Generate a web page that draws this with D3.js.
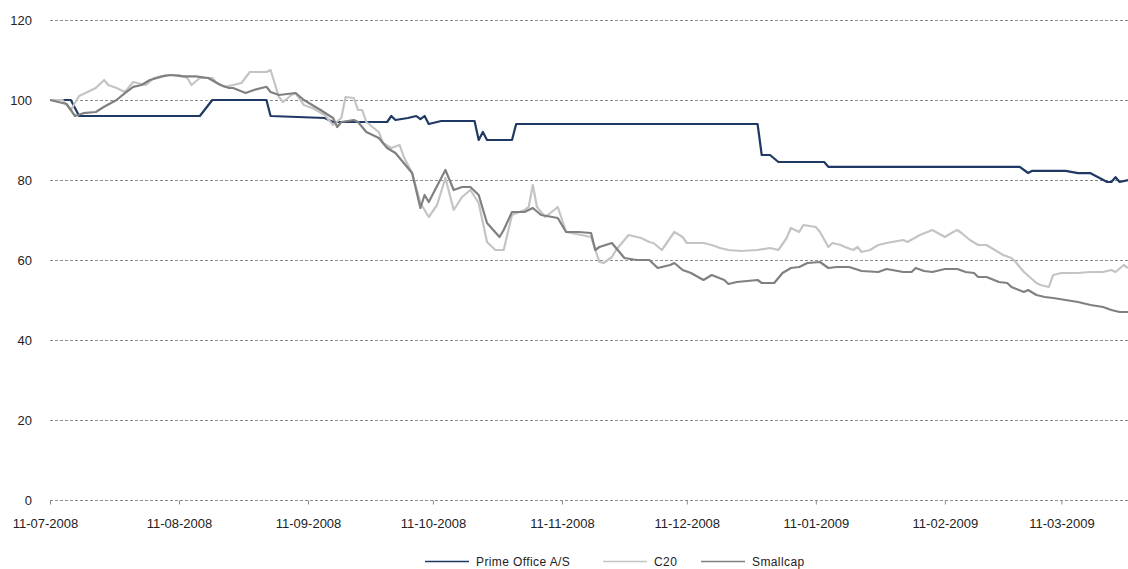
<!DOCTYPE html>
<html>
<head>
  <meta charset="utf-8">
  <title>Prime Office A/S vs C20 og Smallcap</title>
  <style>
    body{ margin:0; background:#fff; }
    .axis text{ font-family:"Liberation Sans", Arial, sans-serif; font-size:13px; fill:#222; }
    .legend text{ font-family:"Liberation Sans", Arial, sans-serif; font-size:12px; fill:#222; letter-spacing:0.4px; }
  </style>
  <script src="https://d3js.org/d3.v7.min.js"></script>
</head>
<body>
<script>
  // indekseret kurs, 11-07-2008 = 100
  var primeDates = ['2008-07-11','2008-07-16','2008-07-18','2008-08-16','2008-08-19','2008-09-01','2008-09-02',
    '2008-09-15','2008-09-17','2008-09-30','2008-10-01','2008-10-02','2008-10-05','2008-10-07','2008-10-08',
    '2008-10-09','2008-10-10','2008-10-13','2008-10-21','2008-10-22','2008-10-23','2008-10-24','2008-10-30',
    '2008-10-31','2008-12-28','2008-12-29','2008-12-31','2009-01-02','2009-01-13','2009-01-14','2009-03-01',
    '2009-03-03','2009-03-04','2009-03-12','2009-03-15','2009-03-18','2009-03-22','2009-03-23','2009-03-24',
    '2009-03-25','2009-03-27'];
  var primeValues = [100,100,96,96,100,100,96,
    95.5,94.5,94.5,96,95,95.5,96,95.2,
    96,94,94.75,94.75,90,92,90,90,
    94,94,86.25,86.25,84.5,84.5,83.3,83.3,
    81.75,82.3,82.3,81.7,81.7,79.5,79.5,80.7,
    79.5,80];

  var c20Dates = ['2008-07-11','2008-07-14','2008-07-16','2008-07-18','2008-07-20','2008-07-22','2008-07-24',
    '2008-07-25','2008-07-27','2008-07-29','2008-07-31','2008-08-03','2008-08-05','2008-08-08','2008-08-11',
    '2008-08-13','2008-08-14','2008-08-16','2008-08-19','2008-08-20','2008-08-22','2008-08-26','2008-08-28',
    '2008-09-01','2008-09-02','2008-09-04','2008-09-05','2008-09-07','2008-09-08','2008-09-10','2008-09-12',
    '2008-09-15','2008-09-17','2008-09-19','2008-09-20','2008-09-22','2008-09-23','2008-09-24','2008-09-25',
    '2008-09-28','2008-09-29','2008-10-01','2008-10-03','2008-10-04','2008-10-06','2008-10-08','2008-10-10',
    '2008-10-12','2008-10-14','2008-10-16','2008-10-18','2008-10-20','2008-10-22','2008-10-24','2008-10-26',
    '2008-10-28','2008-10-30','2008-11-02','2008-11-03','2008-11-04','2008-11-05','2008-11-07','2008-11-10',
    '2008-11-12','2008-11-18','2008-11-20','2008-11-21','2008-11-23','2008-11-24','2008-11-26','2008-11-27',
    '2008-11-30','2008-12-02','2008-12-03','2008-12-05','2008-12-08','2008-12-10','2008-12-11','2008-12-15',
    '2008-12-17','2008-12-19','2008-12-21','2008-12-24','2008-12-28','2008-12-31','2009-01-02','2009-01-04',
    '2009-01-05','2009-01-07','2009-01-08','2009-01-11','2009-01-12','2009-01-14','2009-01-15','2009-01-17',
    '2009-01-18','2009-01-20','2009-01-21','2009-01-22','2009-01-24','2009-01-26','2009-01-28','2009-02-01',
    '2009-02-02','2009-02-05','2009-02-08','2009-02-11','2009-02-13','2009-02-14','2009-02-15','2009-02-17',
    '2009-02-19','2009-02-21','2009-02-23','2009-02-25','2009-02-27','2009-02-28','2009-03-02','2009-03-05',
    '2009-03-06','2009-03-08','2009-03-09','2009-03-11','2009-03-15','2009-03-18','2009-03-21','2009-03-23',
    '2009-03-24','2009-03-26','2009-03-27'];
  var c20Values = [100,100,97.5,101,102,103,105,
    103.75,103,102,104.5,103.75,105.5,106.25,106.25,
    105.5,103.75,105.5,105.5,104.25,103.25,104.25,107,
    107,107.5,100.75,99.5,101.25,101.75,98.75,98,
    96.25,93.75,95.5,100.75,100.5,97.5,97.5,94.5,
    92,89.25,88,88.75,85.75,81.75,74.25,70.75,
    73.75,80.5,72.5,75.75,77.5,74.25,64.5,62.5,
    62.5,71.25,72.5,73.25,78.75,73.25,70.75,73.25,
    67,65.75,59.5,59.25,60.75,62.5,65,66.25,
    65.5,64.5,64.25,62.5,67,65.75,64.25,64.25,
    63.75,63,62.5,62.25,62.5,63,62.5,65.5,
    68,67,68.75,68.25,67,63.25,64.25,63.75,
    63.25,62.5,63.25,62,62.5,63.75,64.25,65,
    64.5,66.25,67.5,65.75,67,67.5,66.75,65,
    63.75,63.75,62.5,61.25,60.5,59.5,57,54.25,
    53.75,53.25,56.25,56.75,56.75,57,57,57.5,
    57,58.75,58];

  var smallDates = ['2008-07-11','2008-07-15','2008-07-17','2008-07-19','2008-07-22','2008-07-24','2008-07-27',
    '2008-07-29','2008-07-31','2008-08-02','2008-08-04','2008-08-07','2008-08-09','2008-08-12','2008-08-15',
    '2008-08-18','2008-08-21','2008-08-23','2008-08-24','2008-08-27','2008-08-29','2008-09-01','2008-09-02',
    '2008-09-04','2008-09-08','2008-09-10','2008-09-12','2008-09-14','2008-09-17','2008-09-18','2008-09-19',
    '2008-09-22','2008-09-23','2008-09-25','2008-09-28','2008-09-30','2008-10-02','2008-10-04','2008-10-06',
    '2008-10-08','2008-10-09','2008-10-10','2008-10-14','2008-10-16','2008-10-18','2008-10-20','2008-10-22',
    '2008-10-24','2008-10-27','2008-10-28','2008-10-30','2008-11-02','2008-11-04','2008-11-06','2008-11-10',
    '2008-11-12','2008-11-15','2008-11-18','2008-11-19','2008-11-20','2008-11-23','2008-11-25','2008-11-26',
    '2008-11-29','2008-12-02','2008-12-04','2008-12-07','2008-12-08','2008-12-10','2008-12-12','2008-12-15',
    '2008-12-17','2008-12-20','2008-12-21','2008-12-23','2008-12-28','2008-12-29','2009-01-01','2009-01-03',
    '2009-01-05','2009-01-07','2009-01-09','2009-01-12','2009-01-13','2009-01-14','2009-01-16','2009-01-19',
    '2009-01-22','2009-01-26','2009-01-28','2009-02-01','2009-02-03','2009-02-04','2009-02-06','2009-02-08',
    '2009-02-11','2009-02-14','2009-02-16','2009-02-18','2009-02-19','2009-02-21','2009-02-24','2009-02-26',
    '2009-02-27','2009-03-02','2009-03-03','2009-03-05','2009-03-07','2009-03-09','2009-03-12','2009-03-15',
    '2009-03-18','2009-03-21','2009-03-23','2009-03-25','2009-03-27'];
  var smallValues = [100,99,96,96.7,97,98.3,100,
    101.7,103.3,103.75,105,105.9,106.25,105.9,105.9,
    105.5,103.75,103,103,101.75,102.5,103.3,102,
    101.25,101.75,100,98.75,97.5,95.5,93.25,94.5,
    95,94.5,92,90.5,88,86.75,84.25,81.75,
    73,76.25,74.5,82.5,77.5,78.25,78.25,76.25,
    69.25,65.75,67.5,72,72,73,71.25,70.5,
    67,67,66.75,62.5,63.25,64.25,61.75,60.5,
    60,60,58,58.75,59.25,57.5,56.75,55,
    56.25,55,54,54.5,55,54.25,54.25,56.75,
    58,58.25,59.25,59.5,58.75,58,58.25,58.25,
    57.25,57,57.75,57,57,58,57.25,57,
    57.75,57.75,57,56.75,55.75,55.75,54.5,54.25,
    53.25,52,52.5,51.25,50.75,50.5,50,49.5,
    48.75,48.25,47.5,47,47];

  var seriesNames = ['Prime Office A/S','C20','Smallcap'];
  var seriesColors = ['#1f3864','#c4c4c4','#808080'];
  var yTicks = [0,20,40,60,80,100,120];
  var xTicks = ['2008-07-11','2008-08-11','2008-09-11','2008-10-11','2008-11-11','2008-12-11','2009-01-11','2009-02-11','2009-03-11'];

  var parse = d3.timeParse('%Y-%m-%d');
  var fmt = d3.timeFormat('%d-%m-%Y');

  function toPoints(dates, values){
    return dates.map(function(d,i){ return {date:parse(d), value:values[i]}; });
  }
  var series = [
    toPoints(primeDates, primeValues),
    toPoints(c20Dates, c20Values),
    toPoints(smallDates, smallValues)
  ];

  var width = 1128, height = 569;
  var margin = {top:20, right:0, bottom:69, left:50};

  var svg = d3.select('body').append('svg')
    .attr('width', width)
    .attr('height', height);

  var x = d3.scaleTime()
    .domain([parse(primeDates[0]), parse(primeDates[primeDates.length-1])])
    .range([margin.left, width - margin.right]);
  var y = d3.scaleLinear()
    .domain([0,120])
    .range([height - margin.bottom, margin.top]);

  // vandrette gitterlinjer
  svg.append('g')
    .selectAll('line')
    .data(yTicks)
    .enter()
    .append('line')
    .attr('x1', margin.left)
    .attr('x2', width - margin.right)
    .attr('y1', d=>Math.round(y(d)) + 0.5)
    .attr('y2', d=>Math.round(y(d)) + 0.5)
    .attr('stroke', '#8c8c8c')
    .attr('stroke-width', 1)
    .attr('stroke-dasharray', '3,2');

  // y-akse labels
  var yAxis = svg.append('g')
    .attr('class','axis')
    .attr('transform','translate(' + (margin.left - 18) + ',0)')
    .call(d3.axisLeft(y).tickValues(yTicks).tickSize(0).tickPadding(0));
  yAxis.select('.domain').remove();

  // x-akse
  var xAxis = svg.append('g')
    .attr('class','axis')
    .attr('transform','translate(0,' + (Math.round(y(0)) + 0.5) + ')')
    .call(d3.axisBottom(x).tickValues(xTicks.map(parse)).tickFormat(fmt).tickSize(4).tickPadding(14));
  xAxis.select('.domain').remove();
  xAxis.selectAll('.tick line').attr('stroke','#8c8c8c');
  xAxis.select('.tick text').attr('dx', -5);

  // linjer
  var line = d3.line()
    .x(d=>x(d.date))
    .y(d=>y(d.value));

  svg.append('g')
    .selectAll('path')
    .data(series)
    .enter()
    .append('path')
    .attr('d', line)
    .attr('fill','none')
    .attr('stroke', (d,i)=>seriesColors[i])
    .attr('stroke-width', 2.2)
    .attr('stroke-linejoin','round');

  // legend
  var legendX = [425, 603, 701];
  var legend = svg.append('g')
    .attr('class','legend')
    .selectAll('g')
    .data(seriesNames)
    .enter()
    .append('g')
    .attr('transform', (d,i)=>'translate(' + legendX[i] + ',561)');
  legend.append('line')
    .attr('x1',0).attr('x2',44)
    .attr('y1',0.5).attr('y2',0.5)
    .attr('stroke',(d,i)=>seriesColors[i])
    .attr('stroke-width',1.3);
  legend.append('text')
    .attr('x',51)
    .attr('y',4.5)
    .text(d=>d);
</script>
</body>
</html>
